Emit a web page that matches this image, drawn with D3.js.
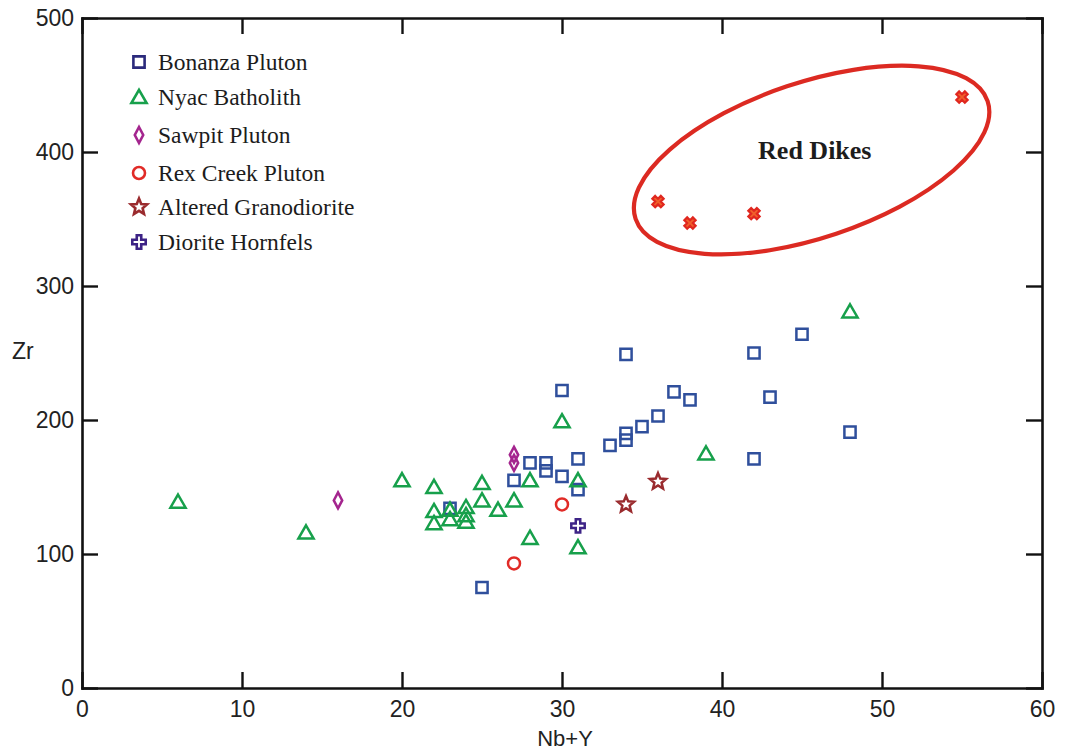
<!DOCTYPE html>
<html>
<head>
<meta charset="utf-8">
<script src="https://cdn.jsdelivr.net/npm/d3@7"></script>
<style>
  html, body { margin: 0; padding: 0; background: #fff; }
  svg { display: block; }
</style>
</head>
<body>
<svg id="chart" width="1065" height="753"></svg>
<script>
// Zr vs Nb+Y for the intrusive units (values in ppm)
const bonanza = [
  [23, 134], [25, 75], [27, 155], [28, 168], [29, 168], [29, 162], [30, 222], [30, 158],
  [31, 171], [31, 148], [33, 181], [34, 249], [34, 190], [34, 185], [35, 195], [36, 203],
  [37, 221], [38, 215], [42, 250], [42, 171], [43, 217], [45, 264], [48, 191]
];
const nyac = [
  [6, 139], [14, 116], [20, 155], [22, 150], [22, 132], [22, 123], [23, 133], [23, 126],
  [24, 135], [24, 129], [24, 124], [25, 153], [25, 140], [26, 133], [27, 140], [28, 155],
  [28, 112], [30, 199], [31, 155], [31, 105], [39, 175], [48, 281]
];
const sawpit = [[16, 140], [27, 174], [27, 168]];
const rexCreek = [[30, 137], [27, 93]];
const altered = [[34, 137], [36, 154]];
const hornfels = [[31, 121]];
const redDikes = [[36, 363], [38, 347], [42, 354], [55, 441]];

const legendNames = [
  "Bonanza Pluton", "Nyac Batholith", "Sawpit Pluton",
  "Rex Creek Pluton", "Altered Granodiorite", "Diorite Hornfels"
];
const xTicks = [0, 10, 20, 30, 40, 50, 60];
const yTicks = [0, 100, 200, 300, 400, 500];

// Outline around the Red Dikes group: centre, half-axes (data units) and tilt
const dikeOutline = { cx: 45.6, cy: 394, halfX: 11.6, halfY: 58, tilt: -18.5 };
const dikeLabel = { x: 45.8, y: 395, text: "Red Dikes" };

const svg = d3.select("#chart");
const x = d3.scaleLinear().domain([0, 60]).range([82, 1042]);
const y = d3.scaleLinear().domain([0, 500]).range([688, 18]);

// marker shapes
function starPath(R, r) {
  const pts = [];
  for (let i = 0; i < 10; i++) {
    const a = -Math.PI / 2 + i * Math.PI / 5;
    const rad = i % 2 === 0 ? R : r;
    pts.push([rad * Math.cos(a), rad * Math.sin(a)]);
  }
  return "M" + pts.map(p => p[0].toFixed(2) + "," + p[1].toFixed(2)).join("L") + "Z";
}
const shapes = {
  square: "M-5.6,-5.6H5.6V5.6H-5.6Z",
  triangle: "M0,-7.2L7.6,6L-7.6,6Z",
  diamond: "M0,-8L4.2,0L0,8L-4.2,0Z",
  circle: d3.symbol(d3.symbolCircle, 113)(),
  star: starPath(8.5, 3.8),
  cross: d3.symbol(d3.symbolCross, 100)(),
  times: d3.symbol(d3.symbolCross, 80)()
};

const styles = [
  { data: bonanza, shape: "square", color: "#2f4f9c", legendColor: "#2b2a7c" },
  { data: nyac, shape: "triangle", color: "#17a04b", legendColor: "#17a04b" },
  { data: sawpit, shape: "diamond", color: "#a4258e", legendColor: "#a4258e" },
  { data: rexCreek, shape: "circle", color: "#e12b27", legendColor: "#e12b27" },
  { data: altered, shape: "star", color: "#9a2b2e", legendColor: "#9a2b2e" },
  { data: hornfels, shape: "cross", color: "#3d2386", legendColor: "#3d2386" }
];

// axes: inward ticks on all four sides
const axisFont = "'Liberation Sans', Arial, sans-serif";
function styleAxis(g) {
  g.selectAll("path.domain").attr("stroke", "#111").attr("stroke-width", 2.6);
  g.selectAll(".tick line").attr("stroke", "#111").attr("stroke-width", 2.4);
  g.selectAll(".tick text").attr("fill", "#222").style("font-family", axisFont).style("font-size", "23px");
}
svg.append("g").attr("transform", `translate(0,${y(0)})`)
  .call(d3.axisBottom(x).tickValues(xTicks).tickSizeInner(-16).tickSizeOuter(0).tickPadding(13))
  .call(styleAxis);
svg.append("g").attr("transform", `translate(0,${y(500)})`)
  .call(d3.axisTop(x).tickValues(xTicks).tickSizeInner(-16).tickSizeOuter(0).tickFormat(""))
  .call(styleAxis);
svg.append("g").attr("transform", `translate(${x(0)},0)`)
  .call(d3.axisLeft(y).tickValues(yTicks).tickSizeInner(-16).tickSizeOuter(0).tickPadding(8))
  .call(styleAxis);
svg.append("g").attr("transform", `translate(${x(60)},0)`)
  .call(d3.axisRight(y).tickValues(yTicks).tickSizeInner(-16).tickSizeOuter(0).tickFormat(""))
  .call(styleAxis);
svg.selectAll(".domain").attr("stroke-linecap", "square");

// axis titles
svg.append("text").attr("x", x(30) + 3).attr("y", 746).attr("text-anchor", "middle")
  .style("font-family", axisFont).style("font-size", "22px").attr("fill", "#222").text("Nb+Y");
svg.append("text").attr("x", 12).attr("y", 359)
  .style("font-family", axisFont).style("font-size", "23px").attr("fill", "#222").text("Zr");

// data points
const plot = svg.append("g");
styles.forEach(s => {
  plot.append("g").selectAll("path").data(s.data).join("path")
    .attr("d", shapes[s.shape])
    .attr("transform", d => `translate(${x(d[0])},${y(d[1])})`)
    .attr("fill", s.shape === "cross" ? "#fff" : "none")
    .attr("stroke", s.color)
    .attr("stroke-width", 2.5)
    .attr("stroke-linejoin", "miter");
});
plot.append("g").selectAll("path").data(redDikes).join("path")
  .attr("d", shapes.times)
  .attr("transform", d => `translate(${x(d[0])},${y(d[1])}) rotate(45)`)
  .attr("fill", "#f0602a")
  .attr("stroke", "#e0271f")
  .attr("stroke-width", 2.2);

// Red Dikes outline and label
const ex = x(dikeOutline.cx), ey = y(dikeOutline.cy);
svg.append("ellipse")
  .attr("cx", 0).attr("cy", 0)
  .attr("rx", x(dikeOutline.cx + dikeOutline.halfX) - ex)
  .attr("ry", y(0) - y(dikeOutline.halfY))
  .attr("transform", `translate(${ex},${ey}) rotate(${dikeOutline.tilt})`)
  .attr("fill", "none").attr("stroke", "#dc2a22").attr("stroke-width", 4.2);
svg.append("text")
  .attr("x", x(dikeLabel.x)).attr("y", y(dikeLabel.y))
  .attr("text-anchor", "middle")
  .style("font-family", "'Liberation Serif', 'Times New Roman', serif")
  .style("font-size", "26px").style("font-weight", "bold")
  .attr("fill", "#1c1c1c").text(dikeLabel.text);

// legend
const legendY = [62, 97, 135, 173, 207, 242];
const legend = svg.append("g");
styles.forEach((s, i) => {
  const row = legend.append("g").attr("transform", `translate(139,${legendY[i]})`);
  row.append("path").attr("d", shapes[s.shape])
    .attr("fill", s.shape === "cross" ? "#fff" : "none")
    .attr("stroke", s.legendColor).attr("stroke-width", 2.6);
  row.append("text").attr("x", 19).attr("y", 8)
    .style("font-family", "'Liberation Serif', 'Times New Roman', serif")
    .style("font-size", "23.5px").attr("fill", "#1c1c1c").text(legendNames[i]);
});
</script>
</body>
</html>
